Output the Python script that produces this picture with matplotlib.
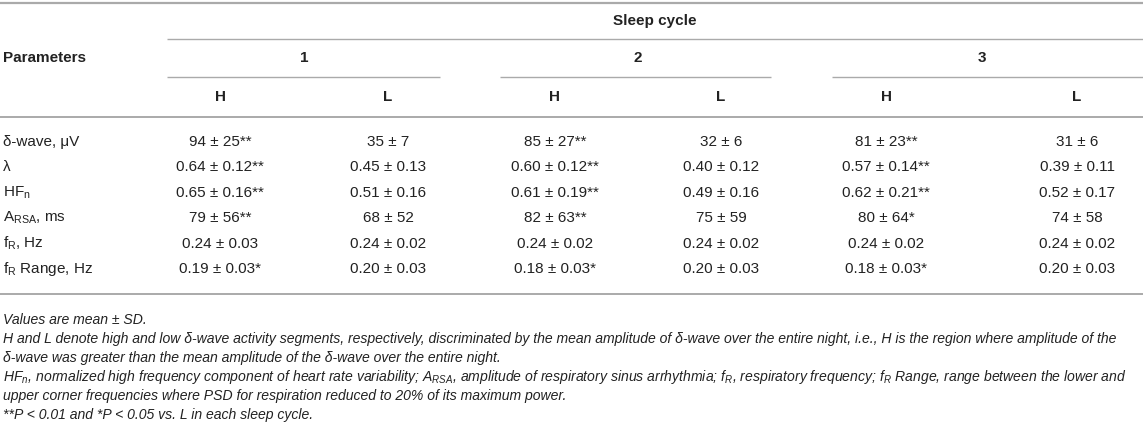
import matplotlib.pyplot as plt

plt.rcParams['font.family'] = ['Liberation Sans', 'DejaVu Sans']
plt.rcParams['mathtext.fontset'] = 'custom'
plt.rcParams['mathtext.rm'] = 'Liberation Sans'
plt.rcParams['mathtext.it'] = 'Liberation Sans:italic'
plt.rcParams['mathtext.bf'] = 'Liberation Sans:bold'

# table content
params = ['δ-wave, μV', 'λ', r'HF$_\mathregular{n}$', r'A$_\mathregular{RSA}$, ms',
          r'f$_\mathregular{R}$, Hz', r'f$_\mathregular{R}$ Range, Hz']
decimals = [0, 2, 2, 0, 2, 2]
cycles = ['1', '2', '3']
segments = ['H', 'L']

cycle1_H_mean = [94, 0.64, 0.65, 79, 0.24, 0.19]
cycle1_H_sd = [25, 0.12, 0.16, 56, 0.03, 0.03]
cycle1_H_sig = ['**', '**', '**', '**', '', '*']
cycle1_L_mean = [35, 0.45, 0.51, 68, 0.24, 0.20]
cycle1_L_sd = [7, 0.13, 0.16, 52, 0.02, 0.03]

cycle2_H_mean = [85, 0.60, 0.61, 82, 0.24, 0.18]
cycle2_H_sd = [27, 0.12, 0.19, 63, 0.02, 0.03]
cycle2_H_sig = ['**', '**', '**', '**', '', '*']
cycle2_L_mean = [32, 0.40, 0.49, 75, 0.24, 0.20]
cycle2_L_sd = [6, 0.12, 0.16, 59, 0.02, 0.03]

cycle3_H_mean = [81, 0.57, 0.62, 80, 0.24, 0.18]
cycle3_H_sd = [23, 0.14, 0.21, 64, 0.02, 0.03]
cycle3_H_sig = ['**', '**', '**', '*', '', '*']
cycle3_L_mean = [31, 0.39, 0.52, 74, 0.24, 0.20]
cycle3_L_sd = [6, 0.11, 0.17, 58, 0.02, 0.03]

no_sig = [''] * 6
columns = [
    (cycle1_H_mean, cycle1_H_sd, cycle1_H_sig),
    (cycle1_L_mean, cycle1_L_sd, no_sig),
    (cycle2_H_mean, cycle2_H_sd, cycle2_H_sig),
    (cycle2_L_mean, cycle2_L_sd, no_sig),
    (cycle3_H_mean, cycle3_H_sd, cycle3_H_sig),
    (cycle3_L_mean, cycle3_L_sd, no_sig),
]

notes = [
    'Values are mean ± SD.',
    'H and L denote high and low δ-wave activity segments, respectively, discriminated by the mean amplitude of δ-wave over the entire night, i.e., H is the region where amplitude of the',
    'δ-wave was greater than the mean amplitude of the δ-wave over the entire night.',
    r'HF$_n$, normalized high frequency component of heart rate variability; A$_{RSA}$, amplitude of respiratory sinus arrhythmia; f$_R$, respiratory frequency; f$_R$ Range, range between the lower and',
    'upper corner frequencies where PSD for respiration reduced to 20% of its maximum power.',
    '**P < 0.01 and *P < 0.05 vs. L in each sleep cycle.',
]

# layout (pixel units)
W, H = 1143, 429
col_x = [220, 388, 555, 721, 886, 1077]
cycle_spans = [(167, 440), (500, 771), (832, W)]
row_y0, row_dy = 142, 25.4
note_y0, note_dy = 320, 19.0
txt = '#222222'
rule = '#aaaaaa'
fs = 11

fig = plt.figure(figsize=(W / 100, H / 100), dpi=100)
ax = fig.add_axes([0, 0, 1, 1])
ax.set_xlim(0, W)
ax.set_ylim(H, 0)
ax.axis('off')

# rules
ax.hlines([3], 0, W, color=rule, lw=1.6)
ax.hlines([39], 167, W, color=rule, lw=1.0)
for x0, x1 in cycle_spans:
    ax.hlines(77, x0, x1, color=rule, lw=1.0)
ax.hlines([117], 0, W, color=rule, lw=1.4)
ax.hlines([294], 0, W, color=rule, lw=1.4)

# header
ax.text((167 + W) / 2, 21, 'Sleep cycle', ha='center', va='center',
        fontsize=fs, fontweight='bold', color=txt)
ax.text(3, 58, 'Parameters', ha='left', va='center',
        fontsize=fs, fontweight='bold', color=txt)
for i, c in enumerate(cycles):
    cx = (col_x[2 * i] + col_x[2 * i + 1]) / 2
    ax.text(cx, 58, c, ha='center', va='center', fontsize=fs,
            fontweight='bold', color=txt)
for j, x in enumerate(col_x):
    ax.text(x, 97, segments[j % 2], ha='center', va='center', fontsize=fs,
            fontweight='bold', color=txt)

# body
for r, p in enumerate(params):
    y = row_y0 + r * row_dy
    ax.text(3, y, p, ha='left', va='center', fontsize=fs, color=txt)
    d = decimals[r]
    for x, (means, sds, sigs) in zip(col_x, columns):
        label = f'{means[r]:.{d}f} ± {sds[r]:.{d}f}{sigs[r]}'
        ax.text(x, y, label, ha='center', va='center', fontsize=fs, color=txt)

# footnotes
for k, line in enumerate(notes):
    ax.text(3, note_y0 + k * note_dy, line, ha='left', va='center',
            fontsize=10.1, style='italic', color=txt)

fig.savefig('out.png', dpi=100)
